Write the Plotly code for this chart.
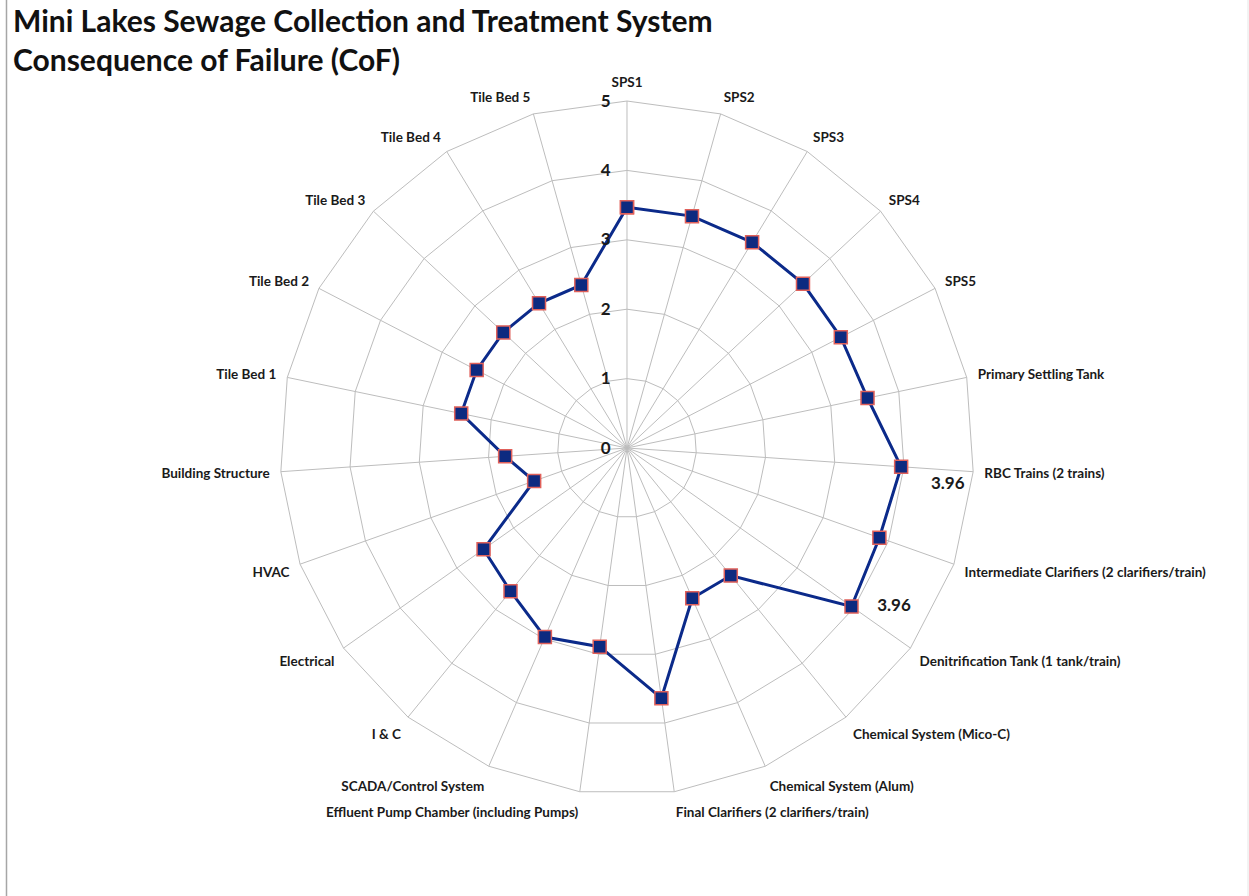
import plotly.graph_objects as go

categories = [
    "SPS1", "SPS2", "SPS3", "SPS4", "SPS5", "Primary Settling Tank",
    "RBC Trains (2 trains)", "Intermediate Clarifiers (2 clarifiers/train)",
    "Denitrification Tank (1 tank/train)", "Chemical System (Mico-C)",
    "Chemical System (Alum)", "Final Clarifiers (2 clarifiers/train)",
    "Effluent Pump Chamber (including Pumps)", "SCADA/Control System",
    "I & C", "Electrical", "HVAC", "Building Structure",
    "Tile Bed 1", "Tile Bed 2", "Tile Bed 3", "Tile Bed 4", "Tile Bed 5",
]
cof_values = [3.47, 3.47, 3.47, 3.47, 3.47, 3.54, 3.96, 3.86, 3.96, 2.37, 2.36, 3.64,
              2.89, 2.97, 2.66, 2.53, 1.42, 1.76, 2.44, 2.44, 2.44, 2.44, 2.44]
NB = "\u00a0"
point_labels = ["", "", "", "", "", "", NB * 5 + "3.96", "", NB * 4 + "3.96", "", "", "",
                "", "", "", "", "", "", "", "", "", "", ""]
label_positions = ["middle right"] * 6 + ["bottom right", "middle right", "middle right"] + ["middle right"] * 14
radial_ticks = [0, 1, 2, 3, 4, 5]

FONT = "Lato, 'Open Sans', sans-serif"
GRID = "#BDBDBD"

fig = go.Figure()
fig.add_trace(go.Scatterpolar(
    r=cof_values + [cof_values[0]],
    theta=categories + [categories[0]],
    mode="lines+markers+text",
    text=point_labels + [""],
    textposition=label_positions + ["middle right"],
    textfont=dict(family=FONT, size=17, color="#1a1a1a", weight="bold"),
    line=dict(color="#0B2A8A", width=3),
    marker=dict(symbol="square", size=13, color="#0D2A80",
                line=dict(color="#E0605A", width=1.5)),
    cliponaxis=False,
    showlegend=False,
))

fig.update_layout(
    width=1249, height=896,
    margin=dict(l=0, r=0, t=0, b=0),
    paper_bgcolor="white",
    plot_bgcolor="white",
    font=dict(family=FONT, color="#1a1a1a"),
    annotations=[dict(
        text="<b>Mini Lakes Sewage Collection and Treatment System<br>Consequence of Failure (CoF)</b>",
        xref="paper", yref="paper", x=0.009, y=1.0, xanchor="left", yanchor="top",
        align="left", showarrow=False,
        font=dict(family=FONT, size=30, color="#111111"),
    )],
    polar=dict(
        domain=dict(x=[0.2242, 0.7798], y=[0.1127, 0.8873]),
        bgcolor="white",
        gridshape="linear",
        angularaxis=dict(
            direction="clockwise", rotation=90,
            categoryorder="array", categoryarray=categories,
            gridcolor=GRID, gridwidth=1,
            showline=True, linecolor=GRID, linewidth=1,
            ticks="outside", ticklen=8, tickcolor="rgba(0,0,0,0)",
            tickfont=dict(family=FONT, size=13.5, color="#1a1a1a", weight="bold"),
        ),
        radialaxis=dict(
            range=[0, 5], tickvals=radial_ticks, angle=90, tickangle=90,
            side="counterclockwise",
            showline=False, gridcolor=GRID, gridwidth=1,
            ticks="outside", ticklen=10, tickcolor="rgba(0,0,0,0)",
            tickfont=dict(family=FONT, size=17, color="#1a1a1a", weight="bold"),
        ),
    ),
    shapes=[
        dict(type="line", xref="paper", yref="paper", x0=0.0052, x1=0.0052, y0=0, y1=1,
             line=dict(color="#A6A6A6", width=1.5)),
        dict(type="line", xref="paper", yref="paper", x0=0.9992, x1=0.9992, y0=0, y1=1,
             line=dict(color="#E6E6E6", width=1)),
    ],
)

fig.write_html("out.html")
